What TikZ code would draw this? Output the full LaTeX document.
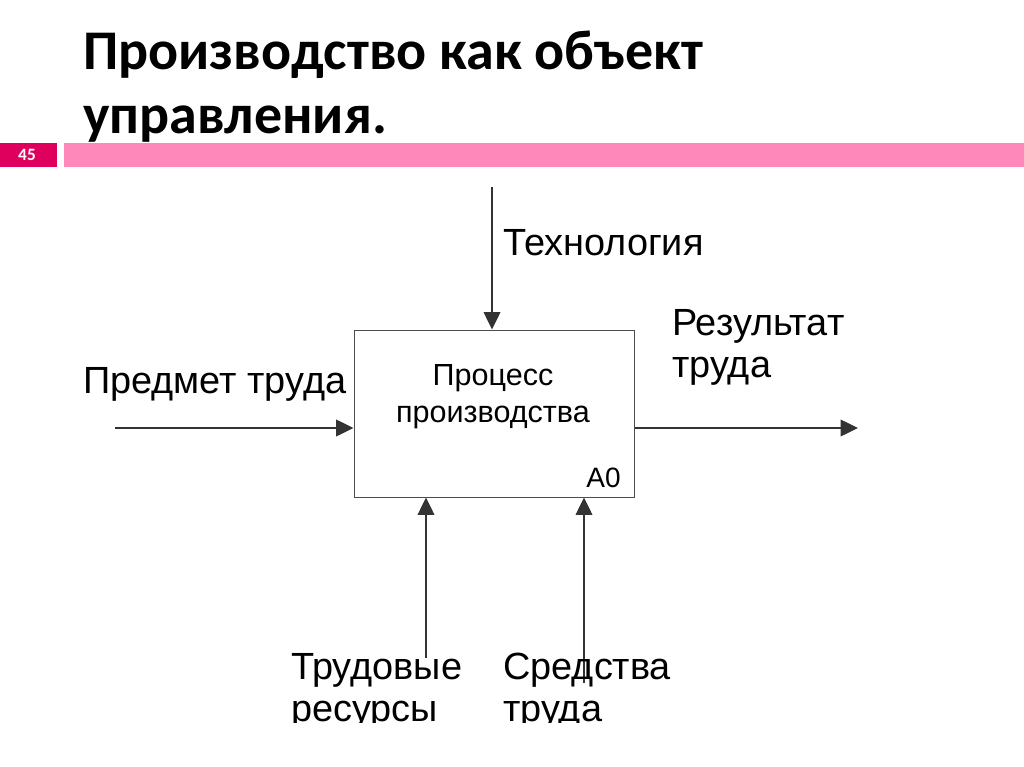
\documentclass[tikz,border=0pt]{standalone}
\usepackage{fontspec}
\setmainfont{Liberation Sans}
\newfontfamily\titlefont{Carlito}
\usetikzlibrary{arrows.meta}
\definecolor{slidemark}{RGB}{222,0,92}
\definecolor{slidebar}{RGB}{255,136,187}
\tikzset{
  flow/.style={draw=black!80, line width=1pt, -{Triangle[length=13pt,width=12.5pt]}},
  lbl/.style={inner sep=0pt, anchor=base west, align=left, font=\fontsize{28.4}{31.5}\selectfont},
  boxlbl/.style={inner sep=0pt, font=\fontsize{22.9}{27.75}\selectfont}
}
\begin{document}
\begin{tikzpicture}
[x=0.75pt,y=-0.75pt]
\useasboundingbox (0,0) rectangle (1024,767);
% title
\node[inner sep=0pt, anchor=base west, align=left, font=\titlefont\bfseries\fontsize{42}{48}\selectfont] (title) at (83,133) {Производство как объект\\управления.};
% slide bar
\fill[slidemark] (0,143) rectangle (57,167);
\node[text=white, font=\titlefont\bfseries\fontsize{13}{14}\selectfont] (num) at (27,155) {45};
\fill[slidebar] (64,143) rectangle (1024,167);
% function box
\node[draw=black!70, line width=0.75pt, minimum width=210pt, minimum height=125.25pt, inner sep=0pt] (proc) at (494,413.5) {};
\node[boxlbl, align=center, anchor=base] (proclbl) at (493,422) {Процесс\\производства};
\node[boxlbl, font=\fontsize{21}{24}\selectfont, anchor=base east] (code) at (621,487) {A0};
% control
\coordinate (techin) at (492,187);
\draw[flow] (techin) -- (techin |- proc.north);
\node[lbl] (tech) at (503,255) {Технология};
% input
\coordinate (subjin) at (115,428);
\draw[flow] (subjin) -- (subjin -| proc.west);
\node[lbl] (subj) at (83,393) {Предмет труда};
% output
\coordinate (resout) at (858,428);
\draw[flow] (proc.east |- resout) -- (resout);
\node[lbl] (res) at (672,377) {Результат\\труда};
% mechanisms
\coordinate (labin) at (426,658);
\draw[flow] (labin) -- (labin |- proc.south);
\coordinate (toolin) at (584,683);
\draw[flow] (toolin) -- (toolin |- proc.south);
\begin{scope}
\clip (0,0) rectangle (1024,722);
\node[lbl] (lab) at (291,721) {Трудовые\\ресурсы};
\node[lbl] (tool) at (503,721) {Средства\\труда};
\end{scope}
\end{tikzpicture}
\end{document}
